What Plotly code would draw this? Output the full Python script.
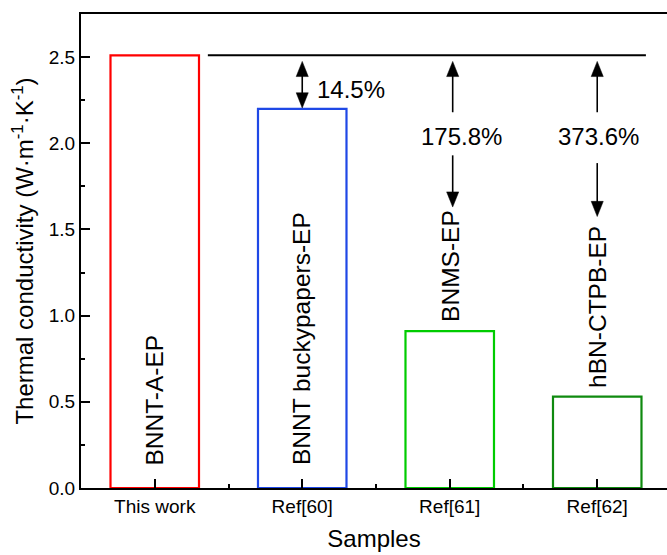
import plotly.graph_objects as go

categories = ["This work", "Ref[60]", "Ref[61]", "Ref[62]"]
sample_names = ["BNNT-A-EP", "BNNT buckypapers-EP", "BNMS-EP", "hBN-CTPB-EP"]
conductivity = [2.51, 2.20, 0.91, 0.53]
increase_labels = ["", "14.5%", "175.8%", "373.6%"]
bar_colors = ["#FF0000", "#1F48E6", "#00CC00", "#0F8A0F"]

xpos = list(range(len(categories)))
FONT = "Liberation Sans, Arial, sans-serif"

fig = go.Figure()
fig.add_trace(go.Bar(
    x=xpos, y=conductivity, width=0.6,
    marker=dict(color="rgba(255,255,255,0)", line=dict(color=bar_colors, width=2.2)),
    showlegend=False, hoverinfo="skip",
))

ref = conductivity[0]
shapes = []
# reference horizontal line
shapes.append(dict(type="line", xref="x", yref="y", x0=0.36, x1=3.33, y0=ref, y1=ref,
                   line=dict(color="black", width=2)))

HW = 0.041   # arrowhead half width (x units)
HL = 0.088   # arrowhead length (y units)


def head(x, ytip, direction):
    # direction +1 -> pointing up, -1 -> pointing down
    yb = ytip - direction * HL
    return dict(type="path", xref="x", yref="y",
                path=f"M {x - HW},{yb} L {x + HW},{yb} L {x},{ytip} Z",
                fillcolor="black", line=dict(color="black", width=0.5))


def shaft(x, y0, y1):
    return dict(type="line", xref="x", yref="y", x0=x, x1=x, y0=y0, y1=y1,
                line=dict(color="black", width=1.6))


# 14.5% double arrow
top_tip = ref - 0.035
bot_tip = conductivity[1] + 0.005
shapes += [shaft(1, bot_tip + HL * 0.9, top_tip - HL * 0.9), head(1, top_tip, 1), head(1, bot_tip, -1)]
# 175.8% arrows
shapes += [shaft(2.02, 2.18, top_tip - HL * 0.9), head(2.02, top_tip, 1)]
shapes += [shaft(2.02, 1.93, 1.63 + HL * 0.9), head(2.02, 1.63, -1)]
# 373.6% arrows
shapes += [shaft(3.0, 2.18, top_tip - HL * 0.9), head(3.0, top_tip, 1)]
shapes += [shaft(3.0, 1.885, 1.575 + HL * 0.9), head(3.0, 1.575, -1)]

ann = []
# sample names inside / above bars
for i, name in enumerate(sample_names):
    if i < 2:
        yy = 0.12
        shift = 0
    else:
        yy = conductivity[i]
        shift = 7
    ann.append(dict(x=xpos[i], y=yy, xref="x", yref="y", text=name, textangle=-90,
                    showarrow=False, xanchor="center", yanchor="bottom", yshift=shift,
                    font=dict(family=FONT, size=24.5, color="black")))

ann.append(dict(x=1.085, y=2.31, xref="x", yref="y", text=increase_labels[1], showarrow=False,
                xanchor="left", yanchor="middle", font=dict(family=FONT, size=24, color="black")))
ann.append(dict(x=2.08, y=2.04, xref="x", yref="y", text=increase_labels[2], showarrow=False,
                xanchor="center", yanchor="middle", font=dict(family=FONT, size=24, color="black")))
ann.append(dict(x=3.01, y=2.04, xref="x", yref="y", text=increase_labels[3], showarrow=False,
                xanchor="center", yanchor="middle", font=dict(family=FONT, size=24, color="black")))

fig.update_layout(
    width=667, height=555,
    margin=dict(l=81, r=0, t=14, b=67),
    plot_bgcolor="white", paper_bgcolor="white",
    annotations=ann, shapes=shapes,
    font=dict(family=FONT, color="black"),
    xaxis=dict(
        range=[-0.5, 3.473], tickmode="array", tickvals=xpos, ticktext=categories,
        ticks="inside", ticklen=9, tickwidth=2, tickcolor="black",
        minor=dict(tickmode="array", tickvals=[0.5, 1.5, 2.5], ticks="inside", ticklen=4,
                   tickwidth=2, tickcolor="black"),
        showline=True, linewidth=2, linecolor="black", mirror=True,
        showgrid=False, zeroline=False,
        tickfont=dict(family=FONT, size=19, color="black"),
        title=dict(text="Samples", font=dict(family=FONT, size=24, color="black"), standoff=14),
    ),
    yaxis=dict(
        range=[0, 2.75], tickmode="array", tickvals=[0, 0.5, 1.0, 1.5, 2.0, 2.5],
        ticktext=["0.0", "0.5", "1.0", "1.5", "2.0", "2.5"],
        ticks="inside", ticklen=9, tickwidth=2, tickcolor="black",
        minor=dict(tickmode="array", tickvals=[0.25, 0.75, 1.25, 1.75, 2.25], ticks="inside",
                   ticklen=4, tickwidth=2, tickcolor="black"),
        showline=True, linewidth=2, linecolor="black", mirror=False,
        showgrid=False, zeroline=False,
        tickfont=dict(family=FONT, size=19, color="black"),
        title=dict(text="Thermal conductivity (W·m<sup>-1</sup>·K<sup>-1</sup>)",
                   font=dict(family=FONT, size=24, color="black"), standoff=8),
    ),
)

fig.write_html("out.html")
